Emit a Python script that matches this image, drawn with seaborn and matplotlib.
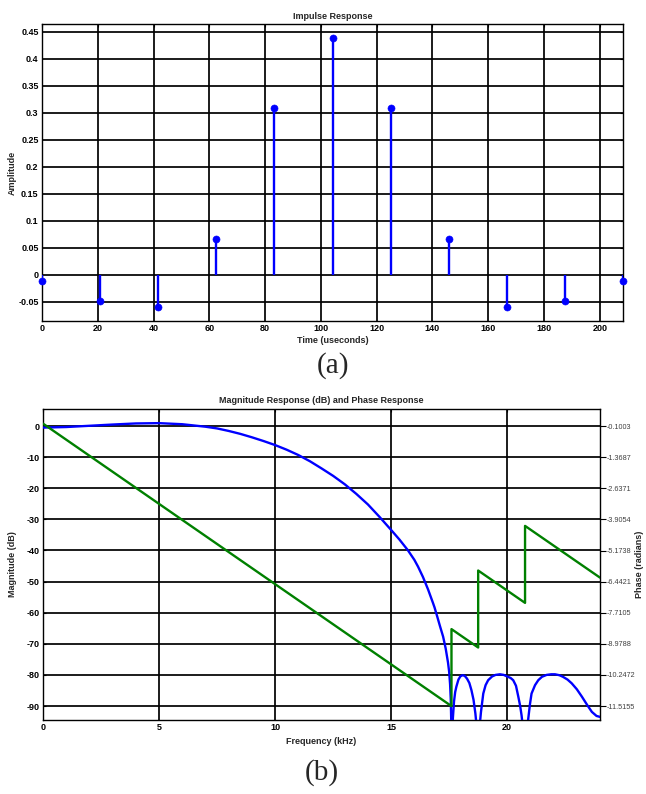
import numpy as np
import matplotlib
matplotlib.use("Agg")
import matplotlib.pyplot as plt
import seaborn as sns
from matplotlib.ticker import FuncFormatter

""" data read off the reference picture """

# (a) impulse response taps
time_us = [0, 20.83, 41.67, 62.5, 83.33, 104.17, 125, 145.83, 166.67, 187.5, 208.33]
amplitude = [-0.012, -0.048, -0.060, 0.066, 0.308, 0.438, 0.308, 0.066, -0.060, -0.048, -0.012]

# (b) magnitude response, passband and roll-off
freq_pass = [0, 1, 2, 3, 4, 5, 6, 7, 7.5, 8, 8.5, 9, 9.5, 10, 10.5, 11, 11.5, 12, 12.5,
             13, 13.5, 14, 14.5, 15, 15.36, 15.72, 16.0, 16.16, 16.37, 16.59, 16.8,
             16.87, 17.0, 17.1, 17.24, 17.35, 17.45, 17.5, 17.54, 17.57, 17.59, 17.6]
mag_pass = [-0.48, -0.3, 0.1, 0.5, 0.85, 0.95, 0.6, -0.2, -0.75, -1.56, -2.5, -3.6, -4.8,
            -6.1, -7.6, -9.3, -11.3, -13.6, -16.0, -18.7, -21.8, -25.2, -29.2, -33.4,
            -36.5, -39.9, -43.0, -45.2, -48.5, -52.5, -56.8, -58.3, -61.6, -64.2, -67.7,
            -71.5, -76.0, -79.0, -83.0, -88.0, -95.0, -130.0]

# (b) magnitude response, stopband side lobes
freq_stop = [17.63, 17.66, 17.71, 17.76, 17.81, 17.9, 17.98, 18.07, 18.17, 18.27, 18.37,
             18.46, 18.55, 18.63, 18.69, 18.73, 18.75,
             18.78, 18.82, 18.87, 18.97, 19.07, 19.18, 19.35, 19.5, 19.69, 19.85, 20.0,
             20.15, 20.26, 20.38, 20.48, 20.56, 20.62, 20.68, 20.73, 20.77,
             20.81, 20.86, 20.91, 20.98, 21.05, 21.2, 21.34, 21.5, 21.7, 21.9, 22.06,
             22.25, 22.4, 22.6, 22.78, 23.0, 23.22, 23.45, 23.65, 23.85, 24.0]
mag_stop = [-100, -94, -88.5, -85.5, -83.8, -81.5, -80.5, -80.1, -80.3, -81.2, -82.6,
            -84.9, -88.0, -92.4, -97, -104, -130,
            -105, -96, -92, -86, -83.3, -81.7, -80.5, -80.0, -79.8, -80.0, -80.5,
            -81.0, -81.7, -83.5, -87, -90, -93, -97, -104, -130,
            -104, -97, -94, -89.5, -86, -83.3, -81.7, -80.6, -80.0, -79.8, -79.8,
            -80.1, -80.6, -81.5, -82.7, -84.6, -87, -89.7, -91.9, -93.2, -93.5]

# (b) phase response
phase_freq = [0, 17.6, 17.6, 18.75, 18.75, 20.77, 20.77, 24.0]
phase_rad = [0.0, -11.52, -8.38, -9.13, -5.99, -7.31, -4.17, -6.28]

# ticks
amp_ticks = [-0.05, 0, 0.05, 0.1, 0.15, 0.2, 0.25, 0.3, 0.35, 0.4, 0.45]
time_ticks = [0, 20, 40, 60, 80, 100, 120, 140, 160, 180, 200]
freq_ticks = [0, 5, 10, 15, 20]
mag_ticks = [0, -10, -20, -30, -40, -50, -60, -70, -80, -90]
phase_ticks = [-0.1003, -1.3687, -2.6371, -3.9054, -5.1738, -6.4421,
               -7.7105, -8.9788, -10.2472, -11.5155]

sns.set_style("white")
plt.rcParams['font.family'] = ['Liberation Sans', 'DejaVu Sans']
plt.rcParams['axes.linewidth'] = 1.0
plt.rcParams['axes.unicode_minus'] = False

BLUE = (0, 0, 1)
GREEN = (0, 0.5, 0)
FS = 6.5

fig = plt.figure(figsize=(6.46, 7.94), dpi=100)
ax1 = fig.add_axes([0.065, 0.5957, 0.8994, 0.374])
ax2 = fig.add_axes([0.0666, 0.0932, 0.8622, 0.3917])

gfmt = FuncFormatter(lambda v, p: ('%g' % round(v, 4)))


def style_axes(ax):
    for s in ax.spines.values():
        s.set_color('black')
        s.set_linewidth(1.0)
    ax.grid(True, color='black', linewidth=1.25, linestyle='-')
    ax.set_axisbelow(True)
    ax.tick_params(direction='in', length=2.5, width=0.8, colors='black',
                   labelsize=FS, pad=2.5, top=True, right=True)
    for t in ax.get_xticklabels() + ax.get_yticklabels():
        t.set_fontweight('bold')


""" (a) impulse response """
ax1.vlines(time_us, 0, amplitude, color=BLUE, linewidth=1.7, zorder=3)
sns.scatterplot(x=time_us, y=amplitude, color=BLUE, edgecolor=BLUE, s=26,
                ax=ax1, zorder=4, clip_on=False)
ax1.set_xlim(0, 208.33)
ax1.set_ylim(-0.0857, 0.464)
ax1.set_xticks(time_ticks)
ax1.set_yticks(amp_ticks)
ax1.yaxis.set_major_formatter(gfmt)
style_axes(ax1)
ax1.set_title('Impulse Response', fontsize=FS, fontweight='bold', pad=4)
ax1.set_xlabel('Time (useconds)', fontsize=FS, fontweight='bold', labelpad=2)
ax1.set_ylabel('Amplitude', fontsize=FS, fontweight='bold')
ax1.yaxis.set_label_coords(-0.043, 0.5)

""" (b) magnitude and phase response """
sns.lineplot(x=freq_pass + freq_stop, y=mag_pass + mag_stop, color=BLUE,
             linewidth=1.7, ax=ax2, estimator=None, sort=False, zorder=3)
mag_lim = (-94.5, 5.5)
ax2.set_xlim(0, 24)
ax2.set_ylim(*mag_lim)
ax2.set_xticks(freq_ticks)
ax2.set_yticks(mag_ticks)
style_axes(ax2)
ax2.tick_params(right=False)
ax2.set_title('Magnitude Response (dB) and Phase Response', fontsize=FS,
              fontweight='bold', pad=4)
ax2.set_xlabel('Frequency (kHz)', fontsize=FS, fontweight='bold', labelpad=3)
ax2.set_ylabel('Magnitude (dB)', fontsize=FS, fontweight='bold')
ax2.yaxis.set_label_coords(-0.0467, 0.5)

# right axis shares the grid rows of the magnitude axis
k = (phase_ticks[-1] - phase_ticks[0]) / (mag_ticks[-1] - mag_ticks[0])
axp = ax2.twinx()
axp.set_ylim(phase_ticks[0] + k * mag_lim[0], phase_ticks[0] + k * mag_lim[1])
sns.lineplot(x=phase_freq, y=phase_rad, color=GREEN, linewidth=1.7, ax=axp,
             estimator=None, sort=False, zorder=3)
axp.set_yticks(phase_ticks)
axp.set_yticklabels(['%.4f' % v for v in phase_ticks])
axp.tick_params(axis='y', direction='out', length=4, width=0.8, colors='black',
                labelsize=5.2, labelcolor='0.25', pad=0.5)
axp.grid(False)
for s in axp.spines.values():
    s.set_visible(False)
axp.set_ylabel('Phase (radians)', fontsize=FS, fontweight='bold')
axp.yaxis.set_label_coords(1.062, 0.5)

""" captions """
fig.text(0.515, 1 - 366 / 794, '(a)', ha='center', va='center',
         fontsize=21, family='Liberation Serif')
fig.text(0.498, 1 - 773 / 794, '(b)', ha='center', va='center',
         fontsize=21, family='Liberation Serif')

fig.savefig('out.png', dpi=100)
